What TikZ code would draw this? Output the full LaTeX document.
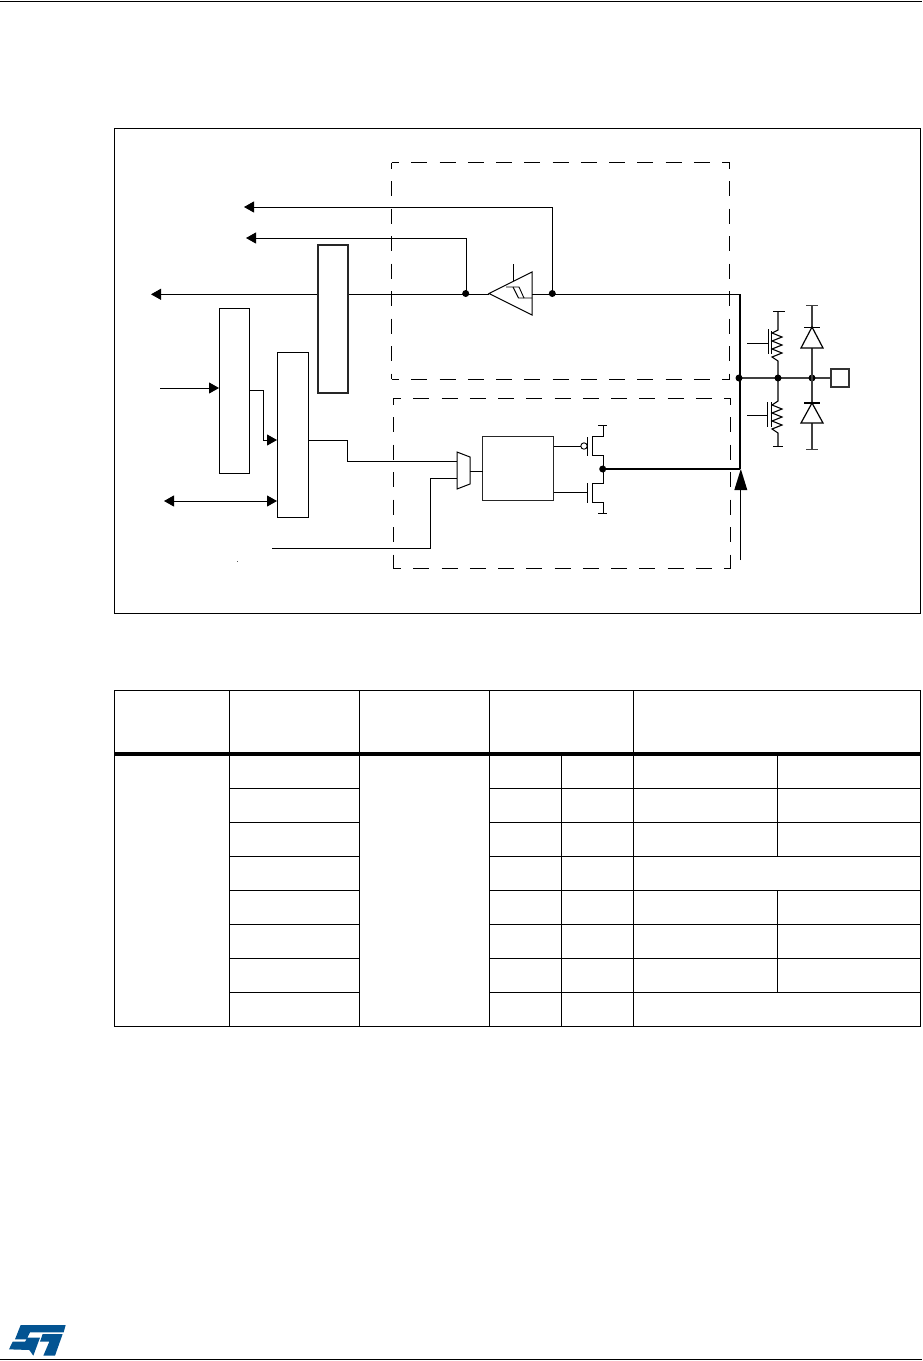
\documentclass[tikz,border=0pt]{standalone}
\usetikzlibrary{arrows.meta}
\definecolor{stblue}{RGB}{3,84,146}
\tikzset{
 x=1pt,y=-1pt,
 wire/.style={line width=1pt,black},
 thick wire/.style={line width=2.2pt,black},
 dashh/.style={line width=.9pt,dash pattern=on 16pt off 12.25pt,dash phase=8.3pt},
 dashv/.style={line width=.9pt,dash pattern=on 15pt off 12.5pt,dash phase=9pt},
 block/.style={line width=1.25pt,draw=black!85,fill=white,inner sep=0pt},
 blockb/.style={line width=1pt,draw=black,fill=white,inner sep=0pt},
 arr/.style={-{Triangle[length=10pt,width=11pt]}},
 dotn/.style={circle,fill=black,inner sep=0pt,minimum size=7pt},
 rule/.style={line width=1pt,black},
}
\begin{document}
\begin{tikzpicture}
\useasboundingbox (0,0) rectangle (922,1361);
% page rules
\draw[rule] (0,1) -- (922,1);
\draw[rule] (0,1359.5) -- (922,1359.5);
% ST logo
\begin{scope}[shift={(0,1300)},x=0.3333pt,y=-0.3333pt]
\fill[stblue] (62,75) -- (197,75) -- (191,97) -- (90,97) -- (82,113) -- (120,113) -- (100,167) -- (88,150) -- (27,148) -- (38,125) -- (75,125) -- (80,118) -- (45,118) -- cycle;
\fill[stblue] (128,102) -- (188,102) -- (165,167) -- (130,167) -- (148,125) -- (120,125) -- cycle;
\end{scope}
% frame
\draw[line width=1pt] (114.7,128.5) rectangle (920.8,613.5);
% dashed boxes
\draw[dashh] (391.5,162.5) -- (729.7,162.5);
\draw[dashh] (391.5,379.3) -- (729.7,379.3);
\draw[dashv] (391.5,162.5) -- (391.5,379.3);
\draw[dashv] (729.7,162.5) -- (729.7,379.3);
\draw[dashh] (393.3,398.7) -- (730.7,398.7);
\draw[dashh] (393.3,568.3) -- (730.7,568.3);
\draw[dashv] (393.3,398.7) -- (393.3,568.3);
\draw[dashv] (730.7,398.7) -- (730.7,568.3);
% blocks
\node[block,minimum width=30pt,minimum height=148pt] (b3) at (333,319) {};
\node[blockb,minimum width=30pt,minimum height=165pt] (b1) at (234,390.5) {};
\node[blockb,minimum width=31pt,minimum height=165pt] (b2) at (292.5,435) {};
\node[block,minimum width=71pt,minimum height=64pt] (drv) at (518.2,468.7) {};
% coordinates
\coordinate (n1) at (466,294.3);
\coordinate (n2) at (552.5,294.3);
\coordinate (bus) at (740,294.3);
\coordinate (j1) at (739,378);
\coordinate (j2) at (778,378);
\coordinate (j3) at (812,378);
\coordinate (out) at (740,469);
\coordinate (tap) at (602.7,469);
% input path
\draw[wire] (n2) -- (bus);
\draw[wire] (532,294.3) -- (n2);
\draw[wire] (489,294.3) -- (n1);
\draw[wire] (n1) -- (349,294.3);
\draw[wire,arr] (317,294.3) -- (151,294.3);
\draw[wire,arr] (n2) -- (552.5,207) -- (244,207);
\draw[wire,arr] (n1) -- (466,238) -- (246,238);
\node[dotn] at (465.7,293.5) {};
\node[dotn] at (552.3,293.5) {};
% schmitt trigger
\draw[line width=1pt] (532,272) -- (532,315) -- (489,293.5) -- cycle;
\draw[line width=.9pt] (513,281) -- (513,264);
\draw[line width=.9pt] (506,287) -- (519,287) -- (524,298) -- (532,298);
\draw[line width=.9pt] (513,287) -- (518.5,298) -- (524,298);
% left signals
\draw[wire,arr] (160,388) -- (219,388);
\draw[wire,{Triangle[length=10pt,width=11pt]}-{Triangle[length=10pt,width=11pt]}] (164,501) -- (277,501);
\draw[wire,arr] (249,390) -- (263,390) -- (263,440) -- (277,440);
\draw[wire] (308,440) -- (347,440) -- (347,461.5) -- (457,461.5);
\draw[wire] (272,548) -- (430,548) -- (430,478) -- (457,478);
\fill (237.5,561.5) circle (.4pt);
% mux
\draw[line width=1pt,fill=white] (457,452) -- (470,457) -- (470,484) -- (457,489) -- cycle;
\draw[wire] (470,471) -- (483,471);
% transistors p / n
\draw[wire] (554,446) -- (580.5,446);
\draw[line width=.9pt] (584,446) circle (3.2pt);
\draw[wire] (587.5,437) -- (587.5,456);
\draw[wire] (592,436) -- (592,456);
\draw[wire] (592,436.5) -- (603,436.5) -- (603,425);
\draw[wire] (598,425) -- (607,425);
\draw[wire] (592,455.5) -- (603,455.5) -- (603,468);
\draw[wire] (554,492) -- (587.5,492);
\draw[wire] (587.5,483) -- (587.5,503);
\draw[wire] (592,483) -- (592,503);
\draw[wire] (592,483) -- (603,483) -- (603,468);
\draw[wire] (592,502.5) -- (603,502.5) -- (603,513);
\draw[wire] (598,513) -- (607,513);
\draw[thick wire] (tap) -- (out);
\node[dotn] at (tap) {};
% bus
\draw[thick wire] (bus) -- (out);
% up arrow
\draw[wire] (740.4,560) -- (740.4,489);
\fill (740.8,469) -- (747.3,490) -- (734.3,490) -- cycle;
% pad line
\draw[line width=1.3pt,black!75] (j1) -- (831,378);
\node[dotn] at (j1) {};
\node[dotn] at (j2) {};
\node[dotn] at (j3) {};
\node[draw,line width=1.1pt,draw=black!80,minimum width=18pt,minimum height=18pt,inner sep=0pt] (pad) at (840,378) {};
% pull-up
\draw[line width=1.1pt] (778,378) -- (778,361) -- (772,357) -- (782,353) -- (772,349) -- (782,345) -- (772,341) -- (782,337) -- (772,333) -- (778,330) -- (778,311);
\draw[wire] (773,311) -- (785,311);
\draw[wire] (768,329) -- (768,354);
\draw[wire] (771.5,331) -- (771.5,354);
\draw[wire] (747,343) -- (768,343);
% pull-down
\draw[line width=1.1pt] (778,378) -- (778,401) -- (772,405) -- (782,409) -- (772,413) -- (782,417) -- (772,421) -- (782,425) -- (772,429) -- (778,433) -- (778,446);
\draw[wire] (773,446) -- (783,446);
\draw[wire] (767.5,402) -- (767.5,427);
\draw[wire] (771.5,402) -- (771.5,427);
\draw[wire] (747,415.5) -- (767.5,415.5);
% diodes
\draw[line width=1.3pt,black!75] (812,305) -- (812,449);
\draw[wire,black!75] (806,305) -- (818,305);
\draw[wire,black!75] (806,449) -- (818,449);
\draw[line width=1.2pt,fill=white] (812,327) -- (801,348) -- (823,348) -- cycle;
\draw[wire] (804,327) -- (820,327);
\draw[line width=1.2pt,fill=white] (812,403) -- (801,423) -- (823,423) -- cycle;
\draw[line width=1.6pt] (804,403) -- (820,403);
% table
\draw[line width=1pt] (114.7,690.5) rectangle (920.8,1026.5);
\foreach \x in {229.5,359.5,489.5,633.5} \draw[rule] (\x,690.5) -- (\x,1026.5);
\foreach \y in {788.5,822.5,856.5,890.5,924.5,958.5,992.5} {
 \draw[rule] (229.5,\y) -- (359.5,\y);
 \draw[rule] (489.5,\y) -- (920.8,\y);
}
\draw[rule] (561.5,754) -- (561.5,1026.5);
\draw[rule] (777.5,754) -- (777.5,856.5);
\draw[rule] (777.5,890.5) -- (777.5,992.5);
\draw[line width=3.2pt] (114.2,754) -- (921.3,754);
\end{tikzpicture}
\end{document}
